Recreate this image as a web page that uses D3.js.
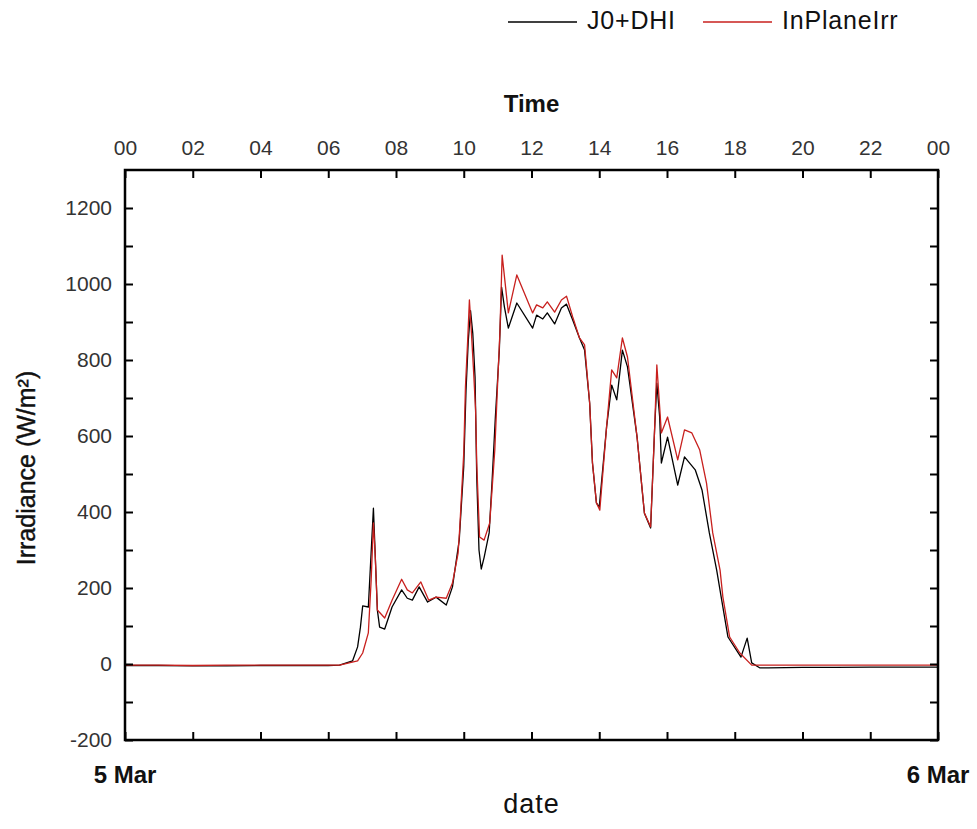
<!DOCTYPE html>
<html><head><meta charset="utf-8">
<script src="https://cdn.jsdelivr.net/npm/d3@7"></script>
<style>
body{margin:0;background:#fff;}
text{font-family:"Liberation Sans",Arial,sans-serif;}
</style></head>
<body><svg id="chart" width="977" height="829"></svg>
<script>
// ---- data ----
const seriesNames = ["J0+DHI", "InPlaneIrr"];
const seriesColors = ["#000000", "#c8201e"];

const j0Times = ["00:00","01:00","02:00","03:00","04:00","05:00","06:00","06:20","06:43","06:52","06:57","07:01","07:11","07:20","07:27","07:31","07:40","07:53","08:10","08:20","08:29","08:41","08:56","09:11","09:29","09:40","09:52","10:00","10:04","10:08","10:12","10:16","10:20","10:23","10:27","10:31","10:36","10:45","10:50","10:56","11:03","11:07","11:12","11:19","11:34","12:02","12:09","12:20","12:28","12:41","12:53","13:02","13:13","13:25","13:34","13:43","13:48","13:55","14:00","14:13","14:22","14:31","14:41","14:50","15:07","15:20","15:31","15:38","15:42","15:47","15:50","16:01","16:19","16:31","16:50","17:02","17:15","17:28","17:36","17:48","18:11","18:22","18:30","18:44","19:00","20:00","21:00","22:00","23:00","24:00"];
const j0Values = [-4,-4,-5,-5,-4,-4,-4,-3,8,45,97,153,150,410,142,97,92,150,195,173,168,203,163,176,155,203,326,520,720,850,930,870,755,492,300,250,280,345,476,650,826,992,940,884,950,884,918,908,924,895,937,947,905,858,826,687,529,424,413,624,734,695,826,782,597,397,358,616,739,650,529,597,471,545,511,458,345,247,176,71,18,68,3,-10,-10,-9,-9,-8,-8,-8];

const inPlaneTimes = ["00:00","01:00","02:00","03:00","04:00","05:00","06:00","06:20","06:52","07:01","07:11","07:16","07:20","07:23","07:27","07:40","07:53","08:10","08:20","08:29","08:44","08:58","09:11","09:29","09:40","09:50","09:53","10:00","10:03","10:07","10:10","10:13","10:17","10:21","10:23","10:28","10:36","10:46","10:55","11:00","11:04","11:08","11:19","11:34","12:02","12:09","12:20","12:28","12:41","12:53","13:02","13:13","13:25","13:34","13:43","13:48","13:55","14:01","14:13","14:22","14:31","14:41","14:50","15:07","15:20","15:31","15:38","15:42","15:47","15:50","16:01","16:19","16:31","16:44","16:58","17:10","17:21","17:34","17:39","17:51","18:09","18:30","19:00","20:00","21:00","22:00","23:00","24:00"];
const inPlaneValues = [-3,-3,-4,-3,-3,-3,-3,-3,8,29,82,220,371,292,142,121,168,223,195,187,216,168,176,173,213,292,360,555,729,853,958,887,782,668,529,334,326,371,563,739,871,1076,924,1024,924,945,937,953,926,958,968,913,858,840,687,529,424,405,624,774,753,858,808,597,397,361,616,787,676,608,650,537,616,608,563,476,345,247,176,71,29,-3,-3,-3,-3,-3,-3,-3];

const yTicks = [-200,0,200,400,600,800,1000,1200];
const yMinorTicks = [-100,100,300,500,700,900,1100];
const topTickLabels = ["00","02","04","06","08","10","12","14","16","18","20","22","00"];
const dateLabels = ["5 Mar","6 Mar"];
const yDomain = [-200, 1300];

// ---- layout ----
const svg = d3.select("#chart");
const L = 125, R = 938, T = 170, B = 740;
const day0 = new Date(2013, 2, 5, 0, 0);
const day1 = new Date(2013, 2, 6, 0, 0);
function toDate(s){ const [h,m] = s.split(":").map(Number); return new Date(day0.getTime() + (h*60+m)*60000); }

const x = d3.scaleTime().domain([day0, day1]).range([L, R]);
const y = d3.scaleLinear().domain(yDomain).range([B, T]);
const tickDates = d3.range(topTickLabels.length).map(i => new Date(day0.getTime() + i*2*3600000));

// series lines
const line = d3.line().x(d => x(d[0])).y(d => y(d[1]));
const series = [
  d3.zip(j0Times.map(toDate), j0Values),
  d3.zip(inPlaneTimes.map(toDate), inPlaneValues)
];
svg.append("clipPath").attr("id","clip").append("rect")
  .attr("x", L).attr("y", T).attr("width", R-L).attr("height", B-T);
series.forEach((s,i) => {
  svg.append("path").datum(s).attr("d", line).attr("fill","none")
    .attr("stroke", seriesColors[i]).attr("stroke-width", 1.3)
    .attr("stroke-linejoin","round").attr("clip-path","url(#clip)");
});

// axes
const tickLen = 8;
const gLeft = svg.append("g").attr("transform",`translate(${L},0)`)
  .call(d3.axisLeft(y).tickValues(yTicks).tickSizeInner(-tickLen).tickSizeOuter(0).tickPadding(13)
    .tickFormat(d => String(d)));
gLeft.selectAll(".tick text").attr("font-size",21).attr("fill","#333").attr("font-family","Liberation Sans, Arial");
svg.append("g").attr("transform",`translate(${L},0)`)
  .call(d3.axisLeft(y).tickValues(yMinorTicks).tickSizeInner(-tickLen).tickSizeOuter(0).tickFormat(""));
svg.append("g").attr("transform",`translate(${R},0)`)
  .call(d3.axisRight(y).tickValues(yTicks.concat(yMinorTicks)).tickSizeInner(-tickLen).tickSizeOuter(0).tickFormat(""));

const gTop = svg.append("g").attr("transform",`translate(0,${T})`)
  .call(d3.axisTop(x).tickValues(tickDates).tickSizeInner(-tickLen).tickSizeOuter(0).tickPadding(15)
    .tickFormat((d,i) => topTickLabels[i]));
gTop.selectAll(".tick text").attr("font-size",21).attr("fill","#333").attr("font-family","Liberation Sans, Arial");

svg.append("g").attr("transform",`translate(0,${B})`)
  .call(d3.axisBottom(x).tickValues(tickDates).tickSizeInner(-tickLen).tickSizeOuter(0).tickFormat(""));

svg.selectAll(".domain").remove();
svg.selectAll(".tick line").attr("stroke","#000").attr("stroke-width",2);

// frame
svg.append("rect").attr("x",L).attr("y",T).attr("width",R-L).attr("height",B-T)
  .attr("fill","none").attr("stroke","#000").attr("stroke-width",2.5);

// date labels
svg.append("text").attr("x", x(day0)).attr("y", 783).attr("text-anchor","middle")
  .attr("font-size",24).attr("font-weight","bold").attr("fill","#111").text(dateLabels[0]);
svg.append("text").attr("x", x(day1)).attr("y", 783).attr("text-anchor","middle")
  .attr("font-size",24).attr("font-weight","bold").attr("fill","#111").text(dateLabels[1]);

// axis titles
svg.append("text").attr("x", (L+R)/2).attr("y", 813).attr("text-anchor","middle")
  .attr("font-size",27).attr("letter-spacing",1).attr("fill","#111").text("date");
svg.append("text").attr("x", (L+R)/2).attr("y", 112).attr("text-anchor","middle")
  .attr("font-size",24).attr("font-weight","bold").attr("fill","#111").text("Time");
svg.append("text").attr("transform",`translate(35,468) rotate(-90)`).attr("text-anchor","middle")
  .attr("font-size",25).attr("fill","#111").attr("stroke","#111").attr("stroke-width",0.4).text("Irradiance (W/m²)");

// legend
const legX = [508, 703];
seriesNames.forEach((n,i) => {
  svg.append("line").attr("x1",legX[i]).attr("x2",legX[i]+69).attr("y1",22).attr("y2",22)
    .attr("stroke",seriesColors[i]).attr("stroke-width",1.3);
  svg.append("text").attr("x",legX[i]+79).attr("y",29).attr("font-size",25).attr("letter-spacing",0.8)
    .attr("fill","#111").text(n);
});
</script></body></html>
